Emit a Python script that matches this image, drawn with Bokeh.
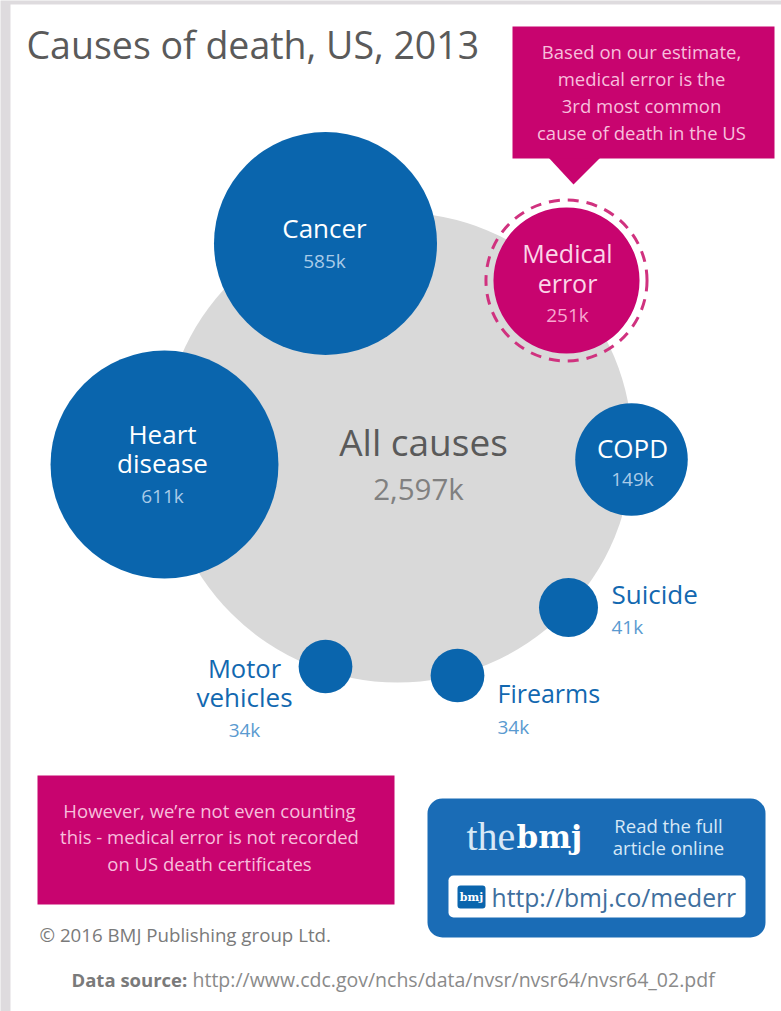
from math import sqrt
from bokeh.embed import file_html
from bokeh.models import BoxAnnotation, ColumnDataSource, Range1d
from bokeh.plotting import figure
from bokeh.resources import INLINE
from bokeh.core.properties import value

# Deaths in thousands, US, 2013
causes = ["Heart disease", "Cancer", "Medical error", "COPD", "Suicide", "Firearms", "Motor vehicles"]
deaths = [611, 585, 251, 149, 41, 34, 34]
all_causes = 2597

# Circle layout on the page
centre_x = [164, 325, 566, 631, 568, 457, 325]
centre_y = [464, 243, 280, 459, 607, 675, 666]
colours = ["#0a65ad", "#0a65ad", "#c8046f", "#0a65ad", "#0a65ad", "#0a65ad", "#0a65ad"]
AREA_SCALE = 4.61  # page pixels per sqrt(thousand deaths)

FONT = "Open Sans"
BLUE = "#1268b0"
PINK = "#c8046f"
VALUE_ON_BLUE = "#a9cbe8"
VALUE_OUTSIDE = "#5a9ad0"

W, H = 781, 1011
p = figure(width=W, height=H, x_range=Range1d(0, W), y_range=Range1d(H, 0),
           output_backend="svg", toolbar_location=None, min_border=0,
           background_fill_color="#dedbde", border_fill_color="#dedbde")
p.axis.visible = False
p.grid.visible = False
p.outline_line_color = None


def box(left, right, top, bottom, colour, radius=0, level="glyph"):
    p.add_layout(BoxAnnotation(left=left, right=right, top=top, bottom=bottom,
                               fill_color=colour, fill_alpha=1, line_color=None,
                               border_radius=radius, level=level))


def label(x, y, text, size, colour, align="center", font=FONT, style="normal"):
    t = p.text([x], [y], text=[text], text_font=value(font), text_font_size=f"{size}px",
               text_color=colour, text_align=align, text_baseline="middle", text_font_style=style)
    t.level = "overlay"


# White page panel
box(10, W, 4, H, "white", level="underlay")

# All causes backdrop
p.circle([397], [447], radius=[AREA_SCALE * sqrt(all_causes)], fill_color="#d9d9d9", line_color=None)

# Cause circles, area proportional to deaths
source = ColumnDataSource(dict(x=centre_x, y=centre_y, colour=colours,
                               r=[AREA_SCALE * sqrt(v) for v in deaths]))
p.circle("x", "y", radius="r", fill_color="colour", line_color=None, source=source)

# Dashed ring around the medical error circle
medical_index = causes.index("Medical error")
p.circle([centre_x[medical_index]], [centre_y[medical_index]],
         radius=[AREA_SCALE * sqrt(deaths[medical_index]) + 7.5],
         fill_color=None, line_color="#d0327f", line_width=3, line_dash="11 8")

# Callout and notes
p.patch([548, 600, 573], [157, 157, 184], fill_color=PINK, line_color=None)
box(512, 774, 26, 158, PINK)
box(37, 394, 775, 904, PINK)
box(427, 765, 798, 937, "#1a6cb6", 15)
box(448, 745, 875, 917, "white", 5)
box(457, 485, 885, 908, "#0a65ad", 3)

label(26, 44, "Causes of death, US, 2013", 37.5, "#5a5a5a", "left")

for y, line in zip([51, 78, 105, 132], ["Based on our estimate,", "medical error is the",
                                        "3rd most common", "cause of death in the US"]):
    label(641, y, line, 18.5, "#f7bfdc")

label(324, 227, "Cancer", 26, "white")
label(324, 260, "585k", 19, VALUE_ON_BLUE)
label(162, 433, "Heart", 26, "white")
label(162, 462, "disease", 26, "white")
label(162, 495, "611k", 19, VALUE_ON_BLUE)
label(567, 252, "Medical", 25, "#fbd5e8")
label(567, 282, "error", 25, "#fbd5e8")
label(567, 314, "251k", 19, "#f7a8d0")
label(632, 447, "COPD", 26, "white")
label(632, 478, "149k", 19, VALUE_ON_BLUE)
label(423, 441, "All causes", 37, "#5a5a5a")
label(418, 488, "2,597k", 29.5, "#808080")

label(611, 593, "Suicide", 26, BLUE, "left")
label(611, 626, "41k", 19, VALUE_OUTSIDE, "left")
label(497, 692, "Firearms", 25, BLUE, "left")
label(497, 726, "34k", 19, VALUE_OUTSIDE, "left")
label(244, 667, "Motor", 25.5, BLUE)
label(244, 696, "vehicles", 26, BLUE)
label(244, 729, "34k", 19, VALUE_OUTSIDE)

for y, line in zip([810, 836, 863], ["However, we\u2019re not even counting",
                                     "this - medical error is not recorded",
                                     "on US death certificates"]):
    label(209, y, line, 18.5, "#f7bfdc")

label(466, 836, "the", 40, "#d7e8f6", "left", "Liberation Serif")
label(516, 836, "bmj", 31, "white", "left", "DejaVu Serif", "bold")
label(668, 825, "Read the full", 18.5, "#d7e8f6")
label(668, 847, "article online", 18.5, "#d7e8f6")
label(471, 897, "bmj", 11, "white", "center", "DejaVu Serif", "bold")
label(491, 897, "http://bmj.co/mederr", 24.7, "#3f6f9e", "left")

label(39, 934, "\u00a9 2016 BMJ Publishing group Ltd.", 18.7, "#7a7a7a", "left")
label(71, 979, "Data source:", 18.5, "#7a7a7a", "left", FONT, "bold")
label(192, 979, "http://www.cdc.gov/nchs/data/nvsr/nvsr64/nvsr64_02.pdf", 19.5, "#8a8a8a", "left")

open("out.html", "w").write(file_html(p, INLINE))
